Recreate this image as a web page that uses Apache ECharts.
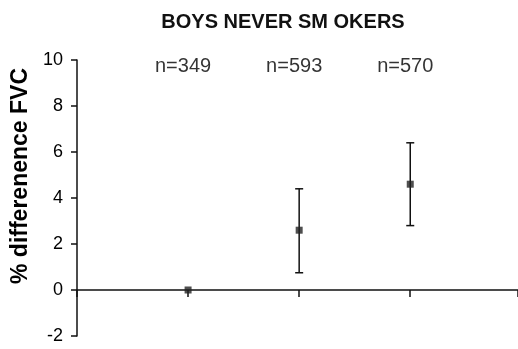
<!DOCTYPE html>
<html><head><meta charset="utf-8">
<script src="https://cdn.jsdelivr.net/npm/echarts@6/dist/echarts.min.js"></script>
<style>html,body{margin:0;padding:0;background:#fff}#c{width:518px;height:349px}</style>
</head><body><div id="c"></div>
<script>
const titleText = "BOYS NEVER SM OKERS";
const yAxisName = "% differenence FVC";
const xPositions = [1, 2, 3];
const means = [0, 2.6, 4.6];
const lower = [0, 0.75, 2.8];
const upper = [0, 4.4, 6.4];
const nLabels = ["n=349", "n=593", "n=570"];
const nLabelY = 9.7;

const ink = "#111";
const chart = echarts.init(document.getElementById('c'));
chart.setOption({
  animation: false,
  backgroundColor: "#fff",
  title: {
    text: titleText, left: 278, top: 7, textAlign: "center",
    textStyle: {fontFamily: "Liberation Sans", fontWeight: "bold", fontSize: 20, color: ink}
  },
  grid: {left: 77, right: 0, top: 60, bottom: 13, containLabel: false},
  xAxis: {
    type: "value", min: 0, max: 3.97, interval: 1,
    axisLine: {onZero: true, lineStyle: {color: ink, width: 1.5}},
    axisTick: {show: true, length: 7, lineStyle: {color: ink, width: 1.5}},
    axisLabel: {show: false}, splitLine: {show: false}
  },
  yAxis: {
    type: "value", min: -2, max: 10, interval: 2,
    name: yAxisName, nameLocation: "middle", nameGap: 44, nameRotate: 90,
    nameTextStyle: {fontFamily: "Liberation Sans", fontWeight: "bold", fontSize: 23, color: "#000",
      padding: [0, 0, 0, 44]},
    axisLine: {show: true, onZero: false, lineStyle: {color: ink, width: 1.5}},
    axisTick: {show: true, length: 6, lineStyle: {color: ink, width: 1.5}},
    axisLabel: {fontFamily: "Liberation Sans", fontSize: 18, color: "#000", margin: 14},
    splitLine: {show: false}
  },
  series: [
    {
      type: "custom",
      data: xPositions.map((x, i) => [x, lower[i], upper[i]]),
      renderItem: function (params, api) {
        const x = api.value(0);
        const lo = api.coord([x, api.value(1)]);
        const hi = api.coord([x, api.value(2)]);
        if (Math.abs(lo[1] - hi[1]) < 1) return null;
        const cap = 4;
        const st = {stroke: ink, lineWidth: 1.5};
        return {type: "group", children: [
          {type: "line", shape: {x1: lo[0], y1: lo[1], x2: hi[0], y2: hi[1]}, style: st},
          {type: "line", shape: {x1: lo[0]-cap, y1: lo[1], x2: lo[0]+cap, y2: lo[1]}, style: st},
          {type: "line", shape: {x1: hi[0]-cap, y1: hi[1], x2: hi[0]+cap, y2: hi[1]}, style: st}
        ]};
      },
      z: 3
    },
    {
      type: "scatter", symbol: "rect", symbolSize: 7,
      itemStyle: {color: "#222"},
      data: xPositions.map((x, i) => [x, means[i]]), z: 4
    },
    {
      type: "scatter", symbolSize: 0, silent: true,
      data: xPositions.map((x, i) => ({value: [x, nLabelY], name: nLabels[i]})),
      label: {show: true, position: "inside", formatter: p => p.name, offset: [-5, 0],
        fontFamily: "Liberation Sans", fontSize: 20, color: "#000"}
    }
  ]
});
</script>
</body></html>
